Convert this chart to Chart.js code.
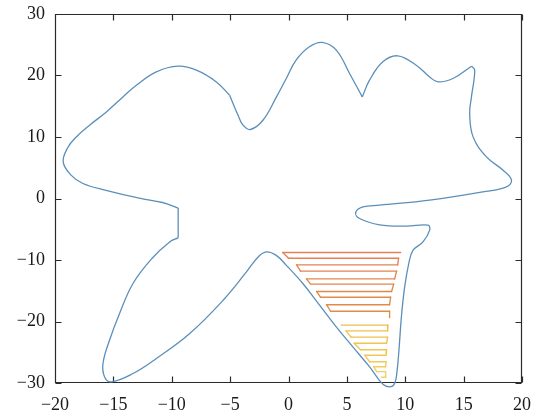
<!DOCTYPE html>
<html>
<head>
<meta charset="utf-8">
<title>Sweep path inside an irregular region</title>
<script src="https://cdn.jsdelivr.net/npm/chart.js@4.4.1/dist/chart.umd.min.js"></script>
<style>
  html, body { margin: 0; padding: 0; background: #ffffff; }
  canvas { display: block; }
</style>
</head>
<body>
<canvas id="chart" width="544" height="419"></canvas>
<script>
// Axis tick positions
const xTickValues = [-20, -15, -10, -5, 0, 5, 10, 15, 20];
const yTickValues = [-30, -20, -10, 0, 10, 20, 30];

// Region boundary, split at its sharp corners: [x, y] pairs
const boundaryWest = [
  [-9.45, -1.55], [-10.8, -0.65], [-12.78, 0.05], [-15.63, 1.33], [-17.61, 2.44],
  [-18.65, 3.85], [-19.30, 5.95], [-18.90, 8.3], [-18.18, 10.0], [-17.04, 11.92],
  [-15.60, 14.07], [-14.18, 16.52], [-13.03, 18.42], [-11.32, 20.59], [-9.46, 21.51],
  [-7.89, 20.87], [-6.18, 18.96], [-5.04, 16.79]
];
const boundaryCrest = [
  [-5.04, 16.79], [-4.32, 13.53], [-3.89, 11.92], [-3.26, 11.22], [-2.19, 12.72],
  [-1.03, 16.52], [-0.18, 19.56], [0.65, 22.50], [1.79, 24.67], [2.88, 25.39],
  [4.09, 24.13], [5.23, 20.33], [6.32, 16.52]
];
const boundaryEast = [
  [6.32, 16.52], [6.94, 19.24], [8.08, 22.22], [9.36, 23.20], [10.94, 21.68],
  [12.09, 19.77], [12.80, 18.96], [14.09, 19.51], [15.67, 21.51]
];
const boundarySouth = [
  [15.67, 21.51], [15.95, 20.86], [15.67, 16.52], [15.52, 13.82], [15.81, 10.02],
  [16.96, 6.76], [18.38, 4.60], [19.10, 2.98], [18.67, 1.89], [16.66, 1.07],
  [12.09, -0.28], [7.80, -1.09], [6.37, -1.37], [5.75, -2.28], [6.09, -3.25],
  [7.80, -4.28], [10.09, -4.50], [11.95, -4.34], [12.09, -5.15], [11.52, -7.06],
  [10.66, -8.43], [10.30, -10.6], [9.95, -14.37], [9.67, -19.25], [9.46, -24.67],
  [9.29, -28.2], [9.12, -29.9], [8.78, -30.6], [8.09, -30.2], [6.95, -27.38],
  [5.51, -24.13], [4.09, -20.88], [2.66, -17.35], [1.23, -13.82], [-0.20, -10.83],
  [-1.05, -9.25], [-1.89, -8.68], [-2.60, -9.50], [-3.60, -11.93], [-5.60, -16.54],
  [-8.46, -21.95], [-11.32, -26.02], [-13.32, -28.46], [-15.18, -29.82], [-15.75, -29.01],
  [-15.89, -26.83], [-15.33, -23.04], [-14.47, -18.70], [-13.32, -13.82], [-11.70, -9.76],
  [-10.18, -7.06], [-9.45, -6.40]
];
const boundaryNotch = [[-9.45, -6.40], [-9.45, -1.55]];

// Sweep path, upper block: height of each pass and its x range
const upperRowY     = [-8.78, -9.71, -10.80, -11.82, -13.07, -13.93, -15.12, -16.05, -17.27, -18.33];
const upperRowLeft  = [-0.49, 0.00, 0.69, 1.03, 1.54, 1.89, 2.40, 2.74, 3.26, 3.60];
const upperRowRight = [9.61, 9.43, 9.35, 9.26, 9.09, 9.01, 8.83, 8.75, 8.66, 8.66];
const upperTailY = -19.38;

// Sweep path, lower block
const lowerRowY     = [-20.60, -21.53, -22.55, -23.53, -24.59, -25.48, -26.54, -27.35, -28.16, -29.06];
const lowerRowLeft  = [4.52, 4.93, 5.36, 5.62, 6.17, 6.52, 6.95, 7.29, 7.55, 7.98];
const lowerRowRight = [8.52, 8.49, 8.49, 8.40, 8.40, 8.36, 8.36, 8.32, 8.32, 8.32];

const toPoints = pairs => pairs.map(([x, y]) => ({ x, y }));

// Back-and-forth passes; consecutive passes join on the side where one ends
function sweep(ys, lefts, rights, firstLeftward) {
  const pts = [];
  ys.forEach((y, i) => {
    const leftward = (i % 2 === 0) === firstLeftward;
    if (leftward) pts.push({ x: rights[i], y }, { x: lefts[i], y });
    else pts.push({ x: lefts[i], y }, { x: rights[i], y });
  });
  return pts;
}
const upperPath = sweep(upperRowY, upperRowLeft, upperRowRight, true);
upperPath.push({ x: upperRowRight[upperRowRight.length - 1], y: upperTailY });
const lowerPath = sweep(lowerRowY, lowerRowLeft, lowerRowRight, false);

// Colour along the path, from its first segment to its last
function ramp(c0, c1, n) {
  return ctx => {
    const t = n > 2 ? ctx.p0DataIndex / (n - 2) : 0;
    const c = c0.map((v, k) => Math.round(v + (c1[k] - v) * Math.min(1, t)));
    return `rgb(${c[0]},${c[1]},${c[2]})`;
  };
}

const outlineStyle = {
  borderColor: '#5b8fba', borderWidth: 1.3, pointRadius: 0,
  tension: 0.4, fill: false, clip: false
};
const pathStyle = {
  borderWidth: 1.35, pointRadius: 0, tension: 0, fill: false, clip: false,
  borderCapStyle: 'round', borderJoinStyle: 'round'
};

const fmtTick = v => (v < 0 ? '\u2212' + Math.abs(v) : String(v));
const tickFont = { family: '"Liberation Serif", "Times New Roman", serif', size: 18 };

// Box round the plot area with inward tick marks on all four sides
const framePlugin = {
  id: 'frame',
  beforeDatasetsDraw(chart) {
    const { ctx, chartArea: a, scales: { x, y } } = chart;
    const L = Math.round(a.left) + 0.5, R = Math.round(a.right) - 0.5;
    const T = Math.round(a.top) + 0.5, B = Math.round(a.bottom) - 0.5;
    const len = 6;
    ctx.save();
    ctx.strokeStyle = '#2a2a2a';
    ctx.lineWidth = 1.2;
    ctx.beginPath();
    ctx.rect(L, T, R - L, B - T);
    xTickValues.forEach(v => {
      const px = Math.round(x.getPixelForValue(v)) + 0.5;
      ctx.moveTo(px, B); ctx.lineTo(px, B - len);
      ctx.moveTo(px, T); ctx.lineTo(px, T + len);
    });
    yTickValues.forEach(v => {
      const py = Math.round(y.getPixelForValue(v)) + 0.5;
      ctx.moveTo(L, py); ctx.lineTo(L + len, py);
      ctx.moveTo(R, py); ctx.lineTo(R - len, py);
    });
    ctx.stroke();
    ctx.restore();
  }
};

new Chart(document.getElementById('chart'), {
  type: 'line',
  data: {
    datasets: [
      { data: toPoints(boundaryWest), ...outlineStyle },
      { data: toPoints(boundaryCrest), ...outlineStyle },
      { data: toPoints(boundaryEast), ...outlineStyle },
      { data: toPoints(boundarySouth), ...outlineStyle },
      { data: toPoints(boundaryNotch), ...outlineStyle, tension: 0 },
      { data: upperPath, ...pathStyle, borderColor: '#e4845a',
        segment: { borderColor: ramp([230, 128, 88], [222, 142, 70], upperPath.length) } },
      { data: lowerPath, ...pathStyle, borderColor: '#eec050',
        segment: { borderColor: ramp([238, 190, 76], [243, 208, 98], lowerPath.length) } }
    ]
  },
  options: {
    responsive: false,
    animation: false,
    layout: { padding: { left: 0, right: 22, top: 14, bottom: 0 } },
    plugins: { legend: { display: false }, tooltip: { enabled: false } },
    scales: {
      x: {
        type: 'linear', position: 'bottom', min: -20, max: 20,
        afterBuildTicks: s => { s.ticks = xTickValues.map(v => ({ value: v })); },
        afterFit: s => { s.height = 36; s.paddingLeft = 0; s.paddingRight = 0; },
        grid: { display: false, drawTicks: false },
        border: { display: false },
        ticks: { font: tickFont, color: '#1a1a1a', padding: 11, maxRotation: 0, autoSkip: false, callback: fmtTick }
      },
      y: {
        type: 'linear', position: 'left', min: -30, max: 30,
        afterBuildTicks: s => { s.ticks = yTickValues.map(v => ({ value: v })); },
        afterFit: s => { s.width = 55; s.paddingTop = 0; s.paddingBottom = 0; },
        grid: { display: false, drawTicks: false },
        border: { display: false },
        ticks: { font: tickFont, color: '#1a1a1a', padding: 10, autoSkip: false, callback: fmtTick }
      }
    }
  },
  plugins: [framePlugin]
});
</script>
</body>
</html>
